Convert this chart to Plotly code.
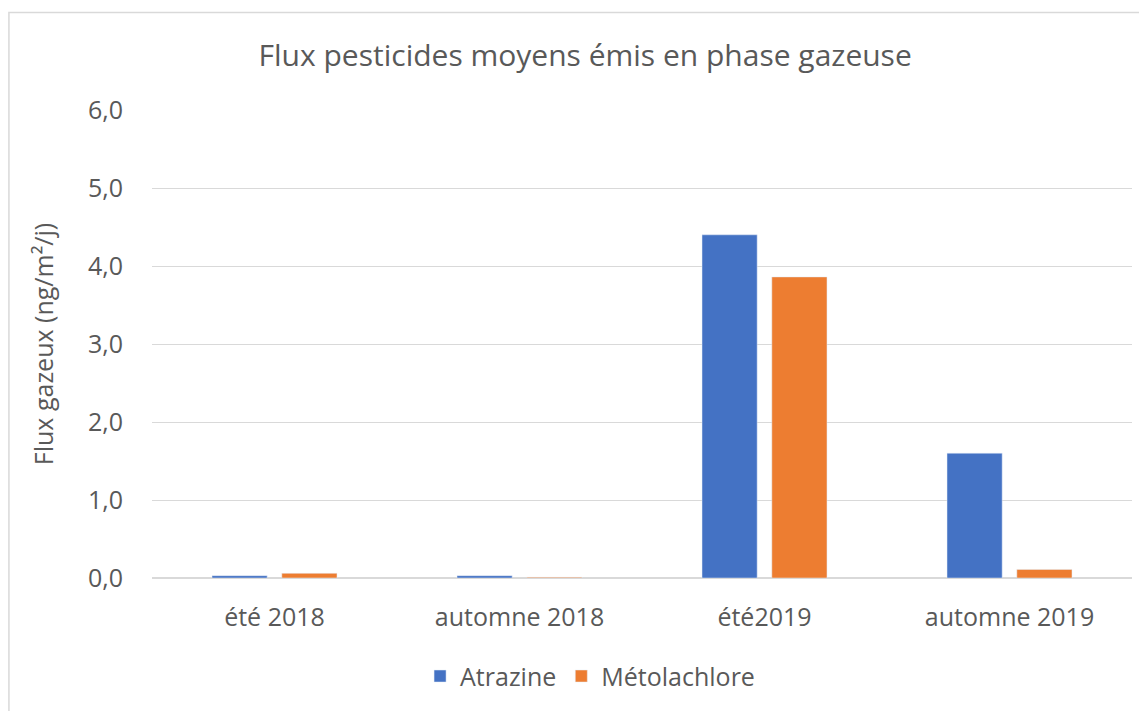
import plotly.graph_objects as go

# --- DATA ---
categories = ["été 2018", "automne 2018", "été2019", "automne 2019"]
atrazine = [0.03, 0.03, 4.40, 1.60]
metolachlore = [0.06, 0.01, 3.86, 0.11]
y_ticks = [0, 1, 2, 3, 4, 5, 6]
y_tick_labels = ["0,0", "1,0", "2,0", "3,0", "4,0", "5,0", "6,0"]

TEXT = "#595959"
FONT = "Open Sans"

fig = go.Figure()
fig.add_trace(go.Bar(x=categories, y=atrazine, name="Atrazine", marker_color="#4472C4"))
fig.add_trace(go.Bar(x=categories, y=metolachlore, name="Métolachlore", marker_color="#ED7D31"))

# page has an 8px body margin, so the figure is a bit smaller than the window
fig.update_layout(
    width=1139, height=703,
    margin=dict(l=144, r=15, t=102, b=131),
    paper_bgcolor="white", plot_bgcolor="white",
    font=dict(family=FONT, color=TEXT, size=25),
    title=dict(text="Flux pesticides moyens émis en phase gazeuse",
               xref="paper", x=0.442, xanchor="center", y=0.933, yanchor="middle",
               font=dict(size=30, color=TEXT)),
    barmode="group", bargap=0.43, bargroupgap=0.21,
    showlegend=True,
    legend=dict(orientation="h", x=0.447, xanchor="center", y=-0.21, yanchor="middle",
                font=dict(size=25, color=TEXT), itemwidth=30),
    xaxis=dict(showgrid=False, showline=False, ticks="", tickfont=dict(size=25),
               ticklabelstandoff=22),
    yaxis=dict(range=[0, 6], tickvals=y_ticks, ticktext=y_tick_labels,
               showgrid=True, gridcolor="#D9D9D9", gridwidth=1,
               zeroline=True, zerolinecolor="#D9D9D9", zerolinewidth=2,
               showline=False, ticks="", ticklabelstandoff=28, tickfont=dict(size=25),
               title=dict(text="Flux gazeux (ng/m²/j)", standoff=27,
                          font=dict(size=25, color=TEXT))),
)

# chart area border
fig.add_shape(type="rect", xref="paper", yref="paper",
              x0=-0.146, x1=1.2, y0=-0.5, y1=1.2085,
              line=dict(color="#D9D9D9", width=1.5), fillcolor="rgba(0,0,0,0)")

fig.write_html("out.html")
